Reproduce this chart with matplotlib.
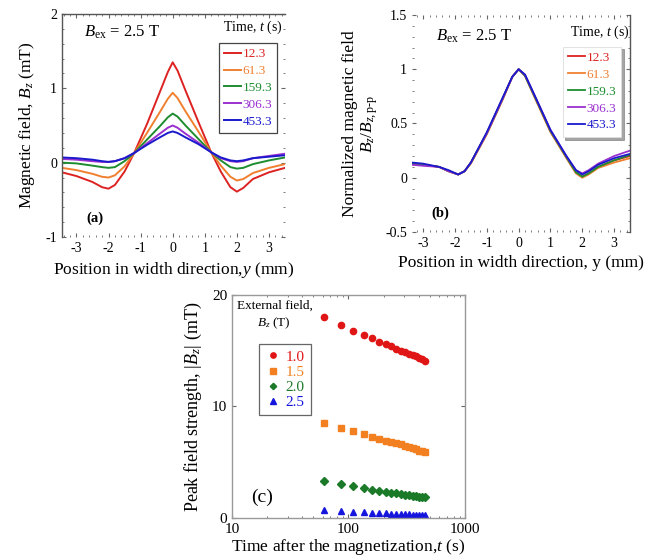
import matplotlib
matplotlib.use('Agg')
import matplotlib.pyplot as plt
from matplotlib.ticker import AutoMinorLocator, LogLocator, NullFormatter

plt.rcParams['font.family'] = ['Liberation Serif', 'DejaVu Serif']
plt.rcParams['mathtext.fontset'] = 'custom'
plt.rcParams['mathtext.rm'] = 'Liberation Serif'
plt.rcParams['mathtext.it'] = 'Liberation Serif:italic'
plt.rcParams['mathtext.bf'] = 'Liberation Serif:bold'
plt.rcParams['axes.unicode_minus'] = False

# ---- data -------------------------------------------------------------------
times = ['12.3', '61.3', '159.3', '306.3', '453.3']
line_colors = ['#dd2222', '#f08030', '#1e8c30', '#9b30d0', '#1a1acc']

# (a) field profiles, B_z (mT)
pos_a = [-3.45, -3.0, -2.5, -2.2, -2.0, -1.8, -1.5, -1.2, -0.8, -0.4, -0.15, 0.0,
         0.15, 0.4, 0.8, 1.2, 1.5, 1.8, 2.0, 2.2, 2.5, 3.0, 3.5]
bz_12 = [-0.13, -0.18, -0.26, -0.33, -0.35, -0.30, -0.12, 0.13, 0.52, 0.95, 1.22, 1.35,
         1.24, 0.97, 0.55, 0.14, -0.12, -0.33, -0.39, -0.34, -0.22, -0.13, -0.07]
bz_61 = [-0.07, -0.10, -0.15, -0.19, -0.20, -0.17, -0.05, 0.13, 0.40, 0.68, 0.86, 0.94,
         0.87, 0.69, 0.42, 0.14, -0.04, -0.19, -0.24, -0.22, -0.14, -0.07, -0.02]
bz_159 = [0.00, -0.01, -0.04, -0.06, -0.07, -0.06, 0.02, 0.13, 0.31, 0.49, 0.61, 0.66,
          0.62, 0.50, 0.32, 0.14, 0.03, -0.06, -0.08, -0.07, -0.02, 0.03, 0.07]
bz_306 = [0.05, 0.04, 0.02, 0.01, 0.01, 0.02, 0.06, 0.13, 0.26, 0.39, 0.47, 0.50,
          0.47, 0.39, 0.27, 0.14, 0.06, 0.02, 0.01, 0.02, 0.06, 0.09, 0.12]
bz_453 = [0.07, 0.06, 0.04, 0.02, 0.01, 0.02, 0.06, 0.13, 0.24, 0.34, 0.40, 0.42,
          0.40, 0.34, 0.25, 0.14, 0.07, 0.03, 0.02, 0.03, 0.06, 0.08, 0.10]

# (b) normalized profiles
pos_b = [-3.35, -3.0, -2.5, -2.2, -1.9, -1.7, -1.5, -1.0, -0.5, -0.2, 0.0, 0.2,
         0.5, 1.0, 1.5, 1.8, 2.0, 2.2, 2.5, 3.0, 3.5]
nb_12 = [0.13, 0.12, 0.10, 0.06, 0.03, 0.06, 0.14, 0.41, 0.73, 0.93, 1.0, 0.94,
         0.75, 0.43, 0.19, 0.05, 0.01, 0.04, 0.10, 0.16, 0.20]
nb_61 = [0.12, 0.12, 0.10, 0.06, 0.03, 0.06, 0.13, 0.40, 0.72, 0.93, 1.0, 0.94,
         0.74, 0.42, 0.18, 0.04, 0.00, 0.03, 0.09, 0.14, 0.18]
nb_159 = [0.13, 0.12, 0.10, 0.06, 0.03, 0.06, 0.14, 0.41, 0.73, 0.93, 1.0, 0.94,
          0.75, 0.43, 0.19, 0.05, 0.01, 0.04, 0.10, 0.16, 0.21]
nb_306 = [0.12, 0.11, 0.10, 0.06, 0.03, 0.06, 0.14, 0.41, 0.73, 0.93, 1.0, 0.95,
          0.76, 0.44, 0.20, 0.07, 0.04, 0.07, 0.13, 0.20, 0.25]
nb_453 = [0.14, 0.13, 0.10, 0.07, 0.03, 0.06, 0.14, 0.42, 0.74, 0.93, 1.0, 0.95,
          0.76, 0.44, 0.20, 0.07, 0.03, 0.06, 0.12, 0.18, 0.22]

# (c) peak field vs time
t_after = [61.3, 85.8, 110.3, 134.8, 159.3, 183.8, 208.3, 232.8, 257.3, 281.8,
           306.3, 330.8, 355.3, 379.8, 404.3, 428.8, 453.3]
peak_10 = [18.0, 17.3, 16.8, 16.4, 16.1, 15.8, 15.6, 15.4, 15.2, 15.0,
           14.85, 14.7, 14.6, 14.5, 14.35, 14.25, 14.1]
peak_15 = [8.5, 8.1, 7.8, 7.55, 7.3, 7.1, 6.95, 6.8, 6.7, 6.6,
           6.45, 6.35, 6.25, 6.15, 6.05, 5.97, 5.9]
peak_20 = [3.35, 3.05, 2.85, 2.7, 2.55, 2.45, 2.35, 2.27, 2.2, 2.14,
           2.08, 2.03, 1.99, 1.95, 1.91, 1.88, 1.85]
peak_25 = [0.72, 0.65, 0.58, 0.53, 0.49, 0.45, 0.42, 0.40, 0.38, 0.36,
           0.34, 0.33, 0.31, 0.30, 0.29, 0.28, 0.27]
ext_fields = ['1.0', '1.5', '2.0', '2.5']
marker_colors = ['#e01515', '#f28020', '#1a7a28', '#1515dd']
markers = ['o', 's', 'D', '^']

fig = plt.figure(figsize=(6.45, 5.57), dpi=100)


def style_axes(ax, solid, labelsize=10):
    for side in ['left', 'right', 'top', 'bottom']:
        ax.spines[side].set_visible(side in solid)
        ax.spines[side].set_linewidth(1.0)
        ax.spines[side].set_color('#555555')
    ax.tick_params(which='both', direction='in', top=True, right=True,
                   labelsize=labelsize, color='#666666')
    ax.tick_params(which='major', length=3)
    ax.tick_params(which='minor', length=1.5)


# ---- (a) ---------------------------------------------------------------------
ax_a = fig.add_axes([0.0961, 0.5745, 0.3457, 0.4004])
for ys, c, lab in zip([bz_12, bz_61, bz_159, bz_306, bz_453], line_colors, times):
    ax_a.plot(pos_a, ys, color=c, lw=1.4, label=lab)
ax_a.set_xlim(-3.45, 3.5)
ax_a.set_ylim(-1, 2)
ax_a.set_xticks([-3, -2, -1, 0, 1, 2, 3])
ax_a.set_yticks([-1, 0, 1, 2])
ax_a.xaxis.set_minor_locator(AutoMinorLocator(5))
ax_a.yaxis.set_minor_locator(AutoMinorLocator(5))
style_axes(ax_a, ['left', 'top'])
ax_a.set_xlabel('Position in width direction,$y$ (mm)', fontsize=12.5, labelpad=4)
ax_a.set_ylabel('Magnetic field, $B_z$ (mT)', fontsize=12.5, labelpad=6)
ax_a.text(0.1, 0.9, r'$B_{\rm ex}$ = 2.5 T', transform=ax_a.transAxes, fontsize=12)
ax_a.text(0.11, 0.07, '(a)', transform=ax_a.transAxes, fontsize=10.5, fontweight='bold')
ax_a.text(0.99, 0.94, 'Time, $t$ (s)', transform=ax_a.transAxes, fontsize=10,
          ha='right', va='center')
leg = ax_a.legend(loc='upper right', bbox_to_anchor=(0.995, 0.9), fontsize=9.5,
                  handlelength=1.3, handletextpad=0.1, labelspacing=0.35,
                  borderpad=0.4, fancybox=False, framealpha=1, labelcolor='linecolor')
leg.get_frame().set_edgecolor('#444444')
leg.get_frame().set_linewidth(0.9)

# ---- (b) ---------------------------------------------------------------------
ax_b = fig.add_axes([0.6388, 0.5835, 0.338, 0.3896])
for ys, c, lab in zip([nb_12, nb_61, nb_159, nb_306, nb_453], line_colors, times):
    ax_b.plot(pos_b, ys, color=c, lw=1.3, label=lab)
ax_b.set_xlim(-3.35, 3.5)
ax_b.set_ylim(-0.5, 1.5)
ax_b.set_xticks([-3, -2, -1, 0, 1, 2, 3])
ax_b.set_yticks([-0.5, 0, 0.5, 1, 1.5])
ax_b.set_yticklabels(['-0.5', '0', '0.5', '1', '1.5'])
ax_b.xaxis.set_minor_locator(AutoMinorLocator(5))
ax_b.yaxis.set_minor_locator(AutoMinorLocator(5))
style_axes(ax_b, ['right'])
ax_b.set_xlabel('Position in width direction, y (mm)', fontsize=12.5, labelpad=4)
ax_b.set_ylabel('Normalized magnetic field\n$B_z/B_{z,\\mathrm{p\u2010p}}$',
                fontsize=12.5, labelpad=4, linespacing=1.1)
ax_b.text(0.11, 0.88, r'$B_{\rm ex}$ = 2.5 T', transform=ax_b.transAxes, fontsize=12)
ax_b.text(0.09, 0.07, '(b)', transform=ax_b.transAxes, fontsize=10.5, fontweight='bold')
ax_b.text(1.0, 0.92, 'Time, $t$ (s)', transform=ax_b.transAxes, fontsize=10,
          ha='right', va='center')
leg = ax_b.legend(loc='upper right', bbox_to_anchor=(0.99, 0.885), fontsize=9.5,
                  handlelength=1.3, handletextpad=0.1, labelspacing=0.35,
                  borderpad=0.4, fancybox=False, shadow=True, framealpha=1,
                  labelcolor='linecolor')
leg.get_frame().set_edgecolor('#dddddd')
leg.get_frame().set_linewidth(0.6)

# ---- (c) ---------------------------------------------------------------------
ax_c = fig.add_axes([0.3597, 0.07, 0.3612, 0.4004])
for ys, c, m, lab in zip([peak_10, peak_15, peak_20, peak_25], marker_colors,
                         markers, ext_fields):
    ax_c.plot(t_after, ys, ls='none', marker=m, color=c,
              ms=4.5 if m != 'D' else 3.8, label=lab)
ax_c.set_xscale('log')
ax_c.set_xlim(10, 1000)
ax_c.set_ylim(0, 20)
ax_c.set_yticks([0, 10, 20])
ax_c.xaxis.set_minor_locator(LogLocator(base=10, subs=range(2, 10)))
ax_c.xaxis.set_minor_formatter(NullFormatter())
ax_c.set_xticks([10, 100, 1000])
ax_c.set_xticklabels(['10', '100', '1000'])
style_axes(ax_c, ['left', 'right', 'top', 'bottom'], labelsize=11)
for side in ax_c.spines.values():
    side.set_color('#999999')
ax_c.set_xlabel('Time after the magnetization,$t$ (s)', fontsize=12.5, labelpad=1)
ax_c.set_ylabel('Peak field strength, $|B_z|$ (mT)', fontsize=13, labelpad=6)
ax_c.text(0.08, 0.07, '(c)', transform=ax_c.transAxes, fontsize=14)
ax_c.text(0.02, 0.95, 'External field,', transform=ax_c.transAxes, fontsize=9.5,
          ha='left', va='center')
ax_c.text(0.18, 0.875, '$B_z$ (T)', transform=ax_c.transAxes, fontsize=9.5,
          ha='center', va='center')
leg = ax_c.legend(loc='upper left', bbox_to_anchor=(0.085, 0.815), fontsize=11,
                  handlelength=1.0, handletextpad=0.3, labelspacing=0.1,
                  borderpad=0.4, fancybox=False, framealpha=1,
                  labelcolor='markerfacecolor', markerscale=0.85)
leg.get_frame().set_edgecolor('#666666')
leg.get_frame().set_linewidth(0.9)

fig.savefig('out.png', dpi=100)
